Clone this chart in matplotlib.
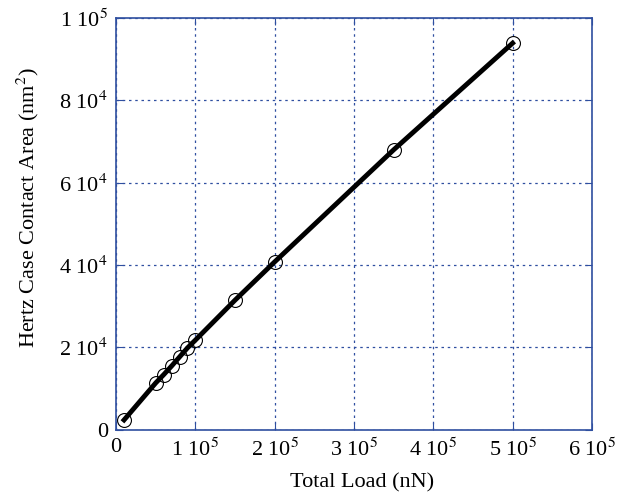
#Plot Hertz contact area versus total load
import matplotlib
matplotlib.use('Agg')
import matplotlib.pyplot as plt
import numpy as np

##########################################
#Data
load = [1e4, 5e4, 6e4, 7e4, 8e4, 9e4, 1e5, 1.5e5, 2e5, 3.5e5, 5e5]
area = [2400, 11400, 13400, 15500, 17700, 19900, 21800, 31500, 40800, 68000, 93900]

xticks = [0, 1e5, 2e5, 3e5, 4e5, 5e5, 6e5]
xticklabels = ['0', r'1 10$^5$', r'2 10$^5$', r'3 10$^5$', r'4 10$^5$', r'5 10$^5$', r'6 10$^5$']
yticks = [0, 2e4, 4e4, 6e4, 8e4, 1e5]
yticklabels = ['0', r'2 10$^4$', r'4 10$^4$', r'6 10$^4$', r'8 10$^4$', r'1 10$^5$']

##########################################
plt.rcParams['font.family'] = ['Liberation Serif', 'DejaVu Serif']
plt.rcParams['mathtext.fontset'] = 'stix'
font_size = 16
axis_color = '#2f4fa0'

fig = plt.figure(figsize=[6.31, 5.01], dpi=100)
ax = fig.add_axes([0.184, 0.142, 0.754, 0.822])

ax.plot(load, area, color='black', linewidth=3.5, zorder=3)
ax.plot(load, area, linestyle='none', marker='o', markersize=10, markerfacecolor='none',
        markeredgecolor='black', markeredgewidth=0.8, zorder=4)

ax.set_xlim(0, 6e5)
ax.set_ylim(0, 1e5)
ax.set_xticks(xticks)
ax.set_xticklabels(xticklabels, fontsize=font_size)
ax.set_yticks(yticks)
ax.set_yticklabels(yticklabels, fontsize=font_size)

ax.grid(True, color=axis_color, linestyle=(0, (2, 3)), linewidth=0.9)
for sp in ax.spines.values():
    sp.set_color(axis_color)
    sp.set_linewidth(1.2)
ax.tick_params(direction='in', colors=axis_color, labelcolor='black', top=True, right=True, length=5, pad=6)

ax.set_xlabel('Total Load (nN)', fontsize=font_size)
ax.set_ylabel(r'Hertz Case Contact Area (nm$^2$)', fontsize=font_size)
ax.xaxis.set_label_coords(0.517, -0.105)
ax.yaxis.set_label_coords(-0.157, 0.54)

plt.savefig('out.png', dpi=100)
